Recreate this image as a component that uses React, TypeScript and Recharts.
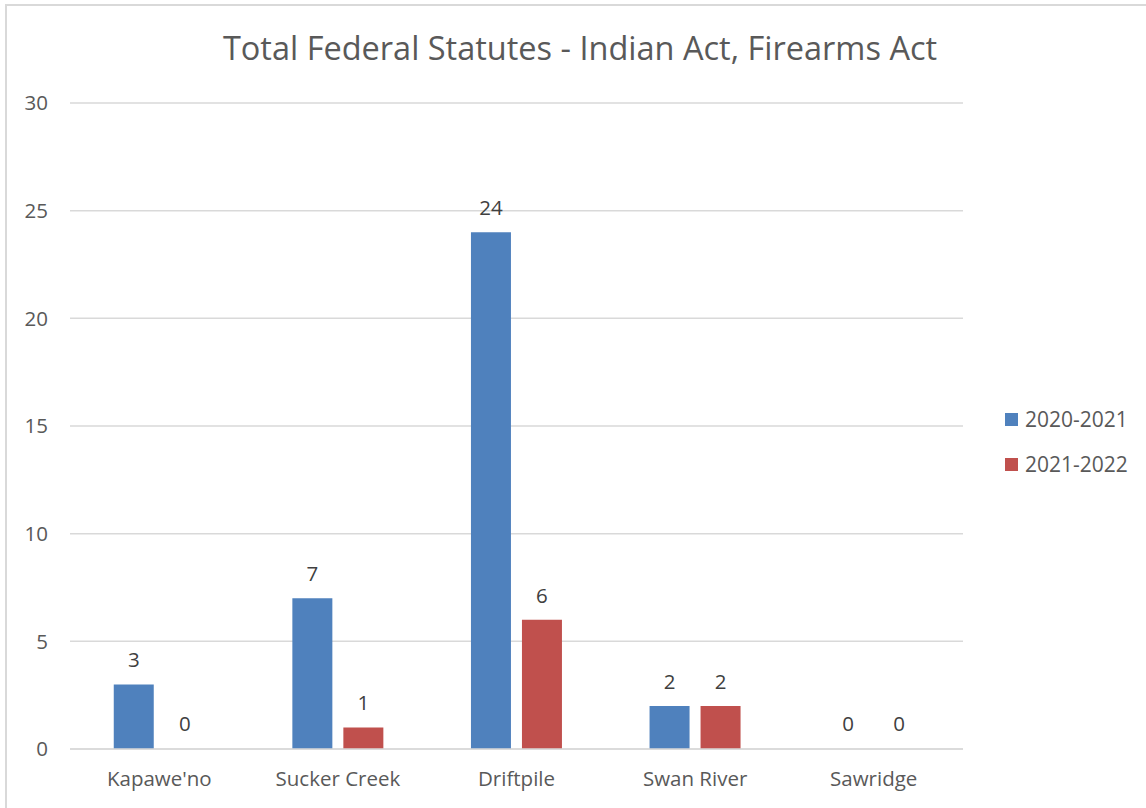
import React from "react";
import { BarChart, Bar, XAxis, YAxis, CartesianGrid, LabelList, Rectangle } from "recharts";

const categories = ["Kapawe'no", "Sucker Creek", "Driftpile", "Swan River", "Sawridge"];
const series2020 = [3, 7, 24, 2, 0];
const series2021 = [0, 1, 6, 2, 0];
const seriesNames = ["2020-2021", "2021-2022"];
const seriesColors = ["#4f81bd", "#c0504d"];
const yTicks = [0, 5, 10, 15, 20, 25, 30];
const title = "Total Federal Statutes - Indian Act, Firearms Act";

const data = categories.map((c, i) => ({ name: c, a: series2020[i], b: series2021[i] }));

const FONT = "'Open Sans', 'Noto Sans', sans-serif";
const TEXT = "#595959";

const BarShape = (p: any) => (p.height < 1.5 ? <g /> : <Rectangle {...p} />);

export default function App() {
  return (
    <div style={{ position: "absolute", left: 0, top: 0, width: 1146, height: 808, overflow: "hidden", background: "#fff", fontFamily: FONT }}>
      <div style={{ position: "absolute", left: 5, top: 4, width: 1200, height: 900, borderLeft: "2px solid #d9d9d9", borderTop: "2px solid #d9d9d9", boxSizing: "border-box" }} />
      <div style={{ position: "absolute", left: 0, width: 1160, top: 24, textAlign: "center", fontSize: 32.5, lineHeight: "48px", color: TEXT, whiteSpace: "nowrap" }}>
        {title}
      </div>
      <div style={{ position: "absolute", left: 0, top: 0 }}>
        <BarChart
          width={1146}
          height={808}
          data={data}
          margin={{ top: 103, right: 183, bottom: 0, left: 0 }}
          barCategoryGap="24.5%"
          barGap={11}
        >
          <CartesianGrid vertical={false} stroke="#d9d9d9" strokeWidth={1.5} />
          <XAxis
            dataKey="name"
            height={59}
            axisLine={{ stroke: "#d9d9d9", strokeWidth: 1.5 }}
            tickLine={false}
            tick={{ fill: TEXT, fontSize: 20.5, fontFamily: FONT }}
            tickMargin={16}
          />
          <YAxis
            width={70}
            domain={[0, 30]}
            ticks={yTicks}
            axisLine={false}
            tickLine={false}
            tick={{ fill: TEXT, fontSize: 20.5, fontFamily: FONT }}
            tickMargin={16}
            interval={0}
          />
          <Bar dataKey="a" name={seriesNames[0]} fill={seriesColors[0]} isAnimationActive={false} minPointSize={1} shape={BarShape}>
            <LabelList dataKey="a" position="top" offset={17} fill="#404040" fontSize={20.5} fontFamily={FONT} />
          </Bar>
          <Bar dataKey="b" name={seriesNames[1]} fill={seriesColors[1]} isAnimationActive={false} minPointSize={1} shape={BarShape}>
            <LabelList dataKey="b" position="top" offset={17} fill="#404040" fontSize={20.5} fontFamily={FONT} />
          </Bar>
        </BarChart>
      </div>
      {seriesNames.map((n, i) => (
        <div key={n} style={{ position: "absolute", left: 1005, top: 405 + i * 45, display: "flex", alignItems: "center", fontSize: 21, lineHeight: "28px", color: TEXT }}>
          <span style={{ display: "inline-block", width: 13, height: 13, background: seriesColors[i], marginRight: 7 }} />
          {n}
        </div>
      ))}
    </div>
  );
}
